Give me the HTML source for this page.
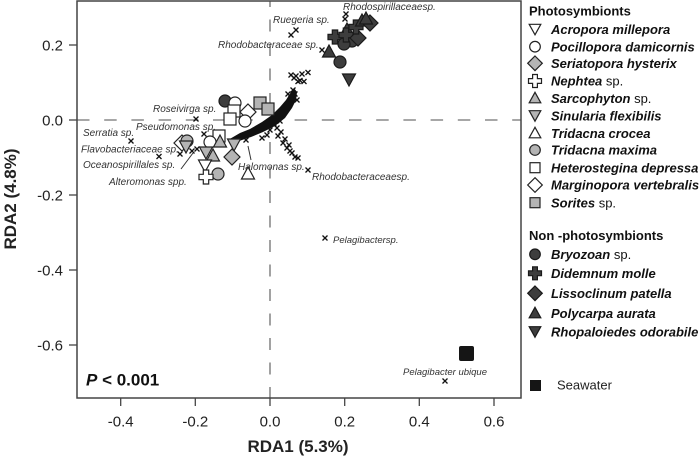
<!DOCTYPE html>
<html><head><meta charset="utf-8"><style>
html,body{margin:0;padding:0;background:#fff;}
svg{display:block;font-family:"Liberation Sans",Arial,sans-serif;}
.lab{font-size:10px;font-style:italic;fill:#333;}
.tk{font-size:15px;fill:#222;}
.lg{font-size:13px;font-weight:bold;font-style:italic;fill:#111;}
.lgh{font-size:13px;font-weight:bold;fill:#111;}
.rg{font-weight:normal;font-style:normal;}
.o{fill:#fff;stroke:#222;stroke-width:1.2;}
.g{fill:#b4b4b4;stroke:#222;stroke-width:1.2;}
.d{fill:#3d3d3d;stroke:#1a1a1a;stroke-width:1.2;}
.x{stroke:#111;stroke-width:1.3;fill:none;}
</style></head><body>
<svg width="700" height="457" viewBox="0 0 700 457" xmlns="http://www.w3.org/2000/svg">
<defs>
<circle id="ci" r="6"/>
<rect id="sq" x="-6" y="-6" width="12" height="12"/>
<polygon id="tu" points="0,-7 6.5,5 -6.5,5"/>
<polygon id="td" points="0,7 6.5,-5 -6.5,-5"/>
<polygon id="di" points="0,-8 8,0 0,8 -8,0"/>
<polygon id="cr" points="-2.7,-7 2.7,-7 2.7,-2.7 7,-2.7 7,2.7 2.7,2.7 2.7,7 -2.7,7 -2.7,2.7 -7,2.7 -7,-2.7 -2.7,-2.7"/>
<path id="xx" d="M-2.5,-2.5L2.5,2.5M-2.5,2.5L2.5,-2.5"/>
<circle id="lci" r="5.3"/>
<rect id="lsq" x="-5" y="-5" width="10" height="10"/>
<polygon id="ltu" points="0,-6 5.8,4.5 -5.8,4.5"/>
<polygon id="ltd" points="0,5.5 5.8,-5 -5.8,-5"/>
<polygon id="ldi" points="0,-7.3 7.3,0 0,7.3 -7.3,0"/>
<polygon id="lcr" points="-2.4,-6.5 2.4,-6.5 2.4,-2.4 6.5,-2.4 6.5,2.4 2.4,2.4 2.4,6.5 -2.4,6.5 -2.4,2.4 -6.5,2.4 -6.5,-2.4 -2.4,-2.4"/>
</defs>

<!-- dashed zero lines -->
<line x1="77" y1="120" x2="521" y2="120" stroke="#8a8a8a" stroke-width="1.6" stroke-dasharray="12.5 14.7"/>
<line x1="270" y1="1" x2="270" y2="398" stroke="#8a8a8a" stroke-width="1.6" stroke-dasharray="12 12.5" stroke-dashoffset="6"/>

<!-- frame -->
<rect x="77" y="1" width="444" height="397" fill="none" stroke="#444" stroke-width="1.5"/>

<!-- ticks -->
<g stroke="#444" stroke-width="1.3">
<line x1="69" y1="45" x2="77" y2="45"/><line x1="69" y1="120" x2="77" y2="120"/>
<line x1="69" y1="195" x2="77" y2="195"/><line x1="69" y1="270" x2="77" y2="270"/>
<line x1="69" y1="345" x2="77" y2="345"/>
<line x1="120.7" y1="398" x2="120.7" y2="406"/><line x1="195.3" y1="398" x2="195.3" y2="406"/>
<line x1="270" y1="398" x2="270" y2="406"/><line x1="344.7" y1="398" x2="344.7" y2="406"/>
<line x1="419.3" y1="398" x2="419.3" y2="406"/><line x1="494" y1="398" x2="494" y2="406"/>
</g>
<g class="tk" text-anchor="end">
<text x="63" y="50.5">0.2</text><text x="63" y="125.5">0.0</text>
<text x="63" y="200.5">-0.2</text><text x="63" y="275.5">-0.4</text>
<text x="63" y="350.5">-0.6</text>
</g>
<g class="tk" text-anchor="middle">
<text x="120.7" y="426.5">-0.4</text><text x="195.3" y="426.5">-0.2</text>
<text x="270" y="426.5">0.0</text><text x="344.7" y="426.5">0.2</text>
<text x="419.3" y="426.5">0.4</text><text x="494" y="426.5">0.6</text>
</g>
<text x="298" y="452" text-anchor="middle" font-size="17" font-weight="bold" fill="#222">RDA1 (5.3%)</text>
<text transform="translate(16,199) rotate(-90)" text-anchor="middle" font-size="17" font-weight="bold" fill="#222">RDA2 (4.8%)</text>
<text x="86" y="385.5" font-size="17" font-weight="bold" fill="#111"><tspan font-style="italic">P</tspan> &lt; 0.001</text>

<!-- species labels -->
<g class="lab">
<text x="273" y="23">Ruegeria sp.</text>
<text x="218" y="48">Rhodobacteraceae sp.</text>
<text x="343" y="10">Rhodospirillaceaesp.</text>
<text x="153" y="112">Roseivirga sp.</text>
<text x="136" y="130">Pseudomonas sp.</text>
<text x="83" y="136">Serratia sp.</text>
<text x="81" y="152.5">Flavobacteriaceae sp.</text>
<text x="83" y="168">Oceanospirillales sp.</text>
<text x="109" y="185">Alteromonas spp.</text>
<text x="238" y="170">Halomonas sp.</text>
<text x="312" y="180">Rhodobacteraceaesp.</text>
<text x="333" y="243" font-size="9.5">Pelagibactersp.</text>
<text x="403" y="375" font-size="9.5">Pelagibacter ubique</text>
</g>
<g stroke="#333" stroke-width="1">
<line x1="181" y1="169" x2="193" y2="153"/>
<line x1="248" y1="146" x2="251" y2="160"/>
</g>

<!-- x markers (bacteria) -->
<g class="x">
<use href="#xx" x="291" y="35"/><use href="#xx" x="296" y="30"/>
<use href="#xx" x="322" y="50"/>
<use href="#xx" x="346" y="14"/><use href="#xx" x="345" y="19"/>
<use href="#xx" x="196" y="119"/><use href="#xx" x="204" y="134"/>
<use href="#xx" x="131" y="141"/><use href="#xx" x="159" y="156.5"/>
<use href="#xx" x="180" y="154"/><use href="#xx" x="197" y="149"/><use href="#xx" x="192" y="151"/>
<use href="#xx" x="246" y="140"/><use href="#xx" x="308" y="170"/>
<use href="#xx" x="325" y="238"/><use href="#xx" x="445" y="381"/>
<use href="#xx" x="291" y="75"/><use href="#xx" x="296" y="76"/><use href="#xx" x="302" y="74"/>
<use href="#xx" x="308" y="72.5"/><use href="#xx" x="300" y="80.5"/><use href="#xx" x="304" y="81.5"/>
<use href="#xx" x="298" y="81.5"/><use href="#xx" x="294" y="78"/>
<use href="#xx" x="293" y="90"/><use href="#xx" x="295" y="94"/><use href="#xx" x="297" y="100"/>
<use href="#xx" x="291" y="98"/><use href="#xx" x="288" y="94"/>
<use href="#xx" x="280" y="121"/><use href="#xx" x="277" y="128"/><use href="#xx" x="278" y="136"/>
<use href="#xx" x="283" y="143"/><use href="#xx" x="287" y="148"/><use href="#xx" x="290" y="151"/>
<use href="#xx" x="295" y="157"/><use href="#xx" x="298" y="158"/><use href="#xx" x="285" y="139"/>
<use href="#xx" x="281" y="132"/><use href="#xx" x="289" y="145"/><use href="#xx" x="292" y="153"/>
<use href="#xx" x="262" y="138"/><use href="#xx" x="267" y="135"/><use href="#xx" x="270" y="130"/>
<use href="#xx" x="274" y="124"/>
</g>
<!-- dense blob -->
<path d="M228,140 L240,133 L250,129 L262,122 L272,115 L280,107 L286,100 L291,92 L294,88 L297,92 L296,100 L292,108 L285,118 L275,126 L263,132 L251,137 L239,141 L230,143 Z" fill="#111"/>

<!-- photosymbiont points -->
<use href="#ci" x="225" y="101" class="d"/>
<use href="#ci" x="235" y="103" class="o"/>
<use href="#sq" x="260" y="103" class="g"/>
<use href="#sq" x="268" y="109" class="g"/>
<use href="#sq" x="234" y="111" class="o"/>
<use href="#di" x="248" y="112" class="o"/>
<use href="#sq" x="230" y="119" class="o"/>
<use href="#ci" x="245" y="121" class="o"/>
<use href="#sq" x="219" y="136" class="o"/>
<use href="#di" x="182" y="143" class="o"/>
<use href="#ci" x="187" y="141" class="g"/>
<use href="#td" x="186" y="146" class="g"/>
<use href="#ci" x="210" y="142" class="o"/>
<use href="#tu" x="220" y="142" class="g"/>
<use href="#td" x="234" y="144" class="g"/>
<use href="#td" x="206" y="152" class="g"/>
<use href="#tu" x="213" y="156" class="g"/>
<use href="#di" x="232" y="157" class="g"/>
<use href="#td" x="205" y="165" class="o"/>
<use href="#ci" x="218" y="174" class="g"/>
<use href="#cr" x="206" y="177" class="o"/>
<use href="#tu" x="248" y="174" class="o"/>

<!-- non-photosymbionts -->
<use href="#tu" x="329" y="52" class="d"/>
<use href="#ci" x="340" y="62" class="d"/>
<use href="#td" x="349" y="79" class="d"/>
<use href="#ci" x="352" y="41" class="d"/>
<use href="#tu" x="347" y="30" class="d"/>
<use href="#cr" x="335" y="37" class="d"/>
<use href="#ci" x="344" y="44" class="d"/>
<use href="#cr" x="346" y="35" class="d"/>
<use href="#di" x="358" y="38" class="d"/>
<use href="#cr" x="356" y="27" class="d"/>
<use href="#tu" x="362" y="21" class="d"/>
<use href="#di" x="370" y="23" class="d"/>
<use href="#tu" x="366" y="19" class="d"/>

<!-- seawater -->
<rect x="459" y="346" width="15" height="15" rx="2" fill="#151515"/>

<!-- legend -->
<text x="529" y="15.5" class="lgh">Photosymbionts</text>
<use href="#ltd" x="535" y="29.3" class="o"/><text x="551" y="34" class="lg">Acropora millepora</text>
<use href="#lci" x="535" y="46.7" class="o"/><text x="551" y="51.4" class="lg">Pocillopora damicornis</text>
<use href="#ldi" x="535" y="63.3" class="g"/><text x="551" y="68" class="lg">Seriatopora hysterix</text>
<use href="#lcr" x="535" y="81" class="o"/><text x="551" y="85.7" class="lg">Nephtea<tspan class="rg"> sp.</tspan></text>
<use href="#ltu" x="535" y="98.3" class="g"/><text x="551" y="103" class="lg">Sarcophyton<tspan class="rg"> sp.</tspan></text>
<use href="#ltd" x="535" y="115.7" class="g"/><text x="551" y="120.4" class="lg">Sinularia flexibilis</text>
<use href="#ltu" x="535" y="133.3" class="o"/><text x="551" y="138" class="lg">Tridacna crocea</text>
<use href="#lci" x="535" y="150" class="g"/><text x="551" y="154.7" class="lg">Tridacna maxima</text>
<use href="#lsq" x="535" y="167.7" class="o"/><text x="551" y="172.4" class="lg">Heterostegina depressa</text>
<use href="#ldi" x="535" y="185" class="o"/><text x="551" y="189.7" class="lg">Marginopora vertebralis</text>
<use href="#lsq" x="535" y="202.7" class="g"/><text x="551" y="207.4" class="lg">Sorites<tspan class="rg"> sp.</tspan></text>

<text x="529" y="240" class="lgh">Non -photosymbionts</text>
<use href="#lci" x="535" y="254.3" class="d"/><text x="551" y="259" class="lg">Bryozoan<tspan class="rg"> sp.</tspan></text>
<use href="#lcr" x="535" y="273.3" class="d"/><text x="551" y="278" class="lg">Didemnum molle</text>
<use href="#ldi" x="535" y="293.3" class="d"/><text x="551" y="298" class="lg">Lissoclinum patella</text>
<use href="#ltu" x="535" y="313.3" class="d"/><text x="551" y="318" class="lg">Polycarpa aurata</text>
<use href="#ltd" x="535" y="331.7" class="d"/><text x="551" y="336.4" class="lg">Rhopaloiedes odorabile</text>

<rect x="530" y="380" width="11" height="11" fill="#151515"/>
<text x="557" y="389.7" font-size="13" fill="#222">Seawater</text>
</svg>
</body></html>
